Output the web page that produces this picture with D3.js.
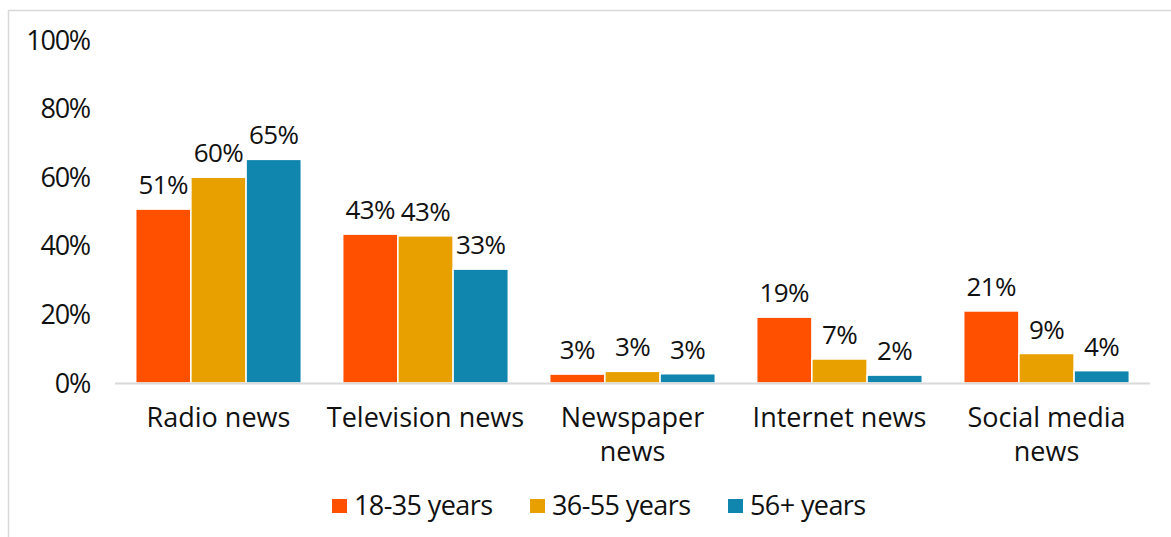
<!DOCTYPE html>
<html>
<head>
<meta charset="utf-8">
<script src="https://cdn.jsdelivr.net/npm/d3@7"></script>
<style>
  html, body { margin: 0; padding: 0; background: #fff; }
  svg { display: block; }
  text { font-family: "Open Sans", sans-serif; fill: #111; }
</style>
</head>
<body>
<svg id="chart" width="1171" height="537"></svg>
<script>
// Share of each age group that uses each news source
const categories = [["Radio news"], ["Television news"], ["Newspaper", "news"], ["Internet news"], ["Social media", "news"]];
const seriesNames = ["18-35 years", "36-55 years", "56+ years"];
const age18to35 = [0.507, 0.434, 0.026, 0.192, 0.210];
const age36to55 = [0.600, 0.429, 0.034, 0.070, 0.086];
const age56plus = [0.652, 0.332, 0.027, 0.023, 0.036];
const yTicks = [0, 0.2, 0.4, 0.6, 0.8, 1.0];
const colors = ["#FF5000", "#E8A000", "#1085AD"];

const series = [age18to35, age36to55, age56plus];
const svg = d3.select("#chart");
const W = 1171, H = 537;
const margin = { left: 115, right: 21, top: 40, bottom: 154 };

// frame around the chart area
svg.append("path")
  .attr("d", `M8.5,${H} V10.5 H${W}`)
  .attr("fill", "none").attr("stroke", "#d9d9d9").attr("stroke-width", 1.5);

const x0 = d3.scaleBand()
  .domain(d3.range(categories.length))
  .range([margin.left, W - margin.right])
  .paddingInner(0.2).paddingOuter(0.1);
const x1 = d3.scaleBand()
  .domain(d3.range(series.length))
  .range([0, x0.bandwidth()]);
const y = d3.scaleLinear().domain([0, 1]).range([H - margin.bottom, margin.top]);
const pct = d3.format(".0%");

// y axis labels
const yAxis = svg.append("g").attr("transform", `translate(90,0)`)
  .call(d3.axisLeft(y).tickValues(yTicks).tickFormat(pct).tickSize(0).tickPadding(0));
yAxis.select(".domain").remove();
yAxis.selectAll("text")
  .attr("dy", "9")
  .style("font-size", "27px")
  .style("letter-spacing", "-1.2px")
  .style("font-family", "'Open Sans', sans-serif")
  .attr("fill", "#111");

// bars
const groups = svg.append("g").selectAll("g")
  .data(categories).join("g")
  .attr("transform", (d, i) => `translate(${x0(i)},0)`);

groups.each(function (c, ci) {
  const g = d3.select(this);
  series.forEach((s, si) => {
    g.append("rect")
      .attr("x", x1(si))
      .attr("y", y(s[ci]))
      .attr("width", x1.bandwidth())
      .attr("height", y(0) - y(s[ci]))
      .attr("fill", colors[si])
      .attr("stroke", "#fff").attr("stroke-width", 1.5);
    g.append("text")
      .attr("x", x1(si) + x1.bandwidth() / 2)
      .attr("y", y(s[ci]) - 15)
      .attr("text-anchor", "middle")
      .style("font-size", "26px")
      .style("letter-spacing", "-0.6px")
      .text(pct(s[ci]));
  });
});

// baseline
svg.append("line")
  .attr("x1", margin.left).attr("x2", W - margin.right)
  .attr("y1", y(0) + 0.5).attr("y2", y(0) + 0.5)
  .attr("stroke", "#d9d9d9").attr("stroke-width", 2);

// category labels
const xAxis = svg.append("g");
categories.forEach((lines, i) => {
  const cx = x0(i) + x0.bandwidth() / 2;
  const t = xAxis.append("text")
    .attr("x", cx)
    .attr("y", y(0) + 44)
    .attr("text-anchor", "middle")
    .style("font-size", "27px");
  lines.forEach((ln, li) => {
    t.append("tspan").attr("x", cx).attr("dy", li === 0 ? 0 : 34).text(ln);
  });
});

// legend
const legendX = [332, 530, 728];
const legend = svg.append("g").attr("transform", "translate(0,515)");
seriesNames.forEach((name, i) => {
  legend.append("rect").attr("x", legendX[i]).attr("y", -16).attr("width", 15).attr("height", 14).attr("fill", colors[i]);
  legend.append("text").attr("x", legendX[i] + 22).attr("y", 0)
    .style("font-size", "27px").style("letter-spacing", "-0.6px").text(name);
});
</script>
</body>
</html>
